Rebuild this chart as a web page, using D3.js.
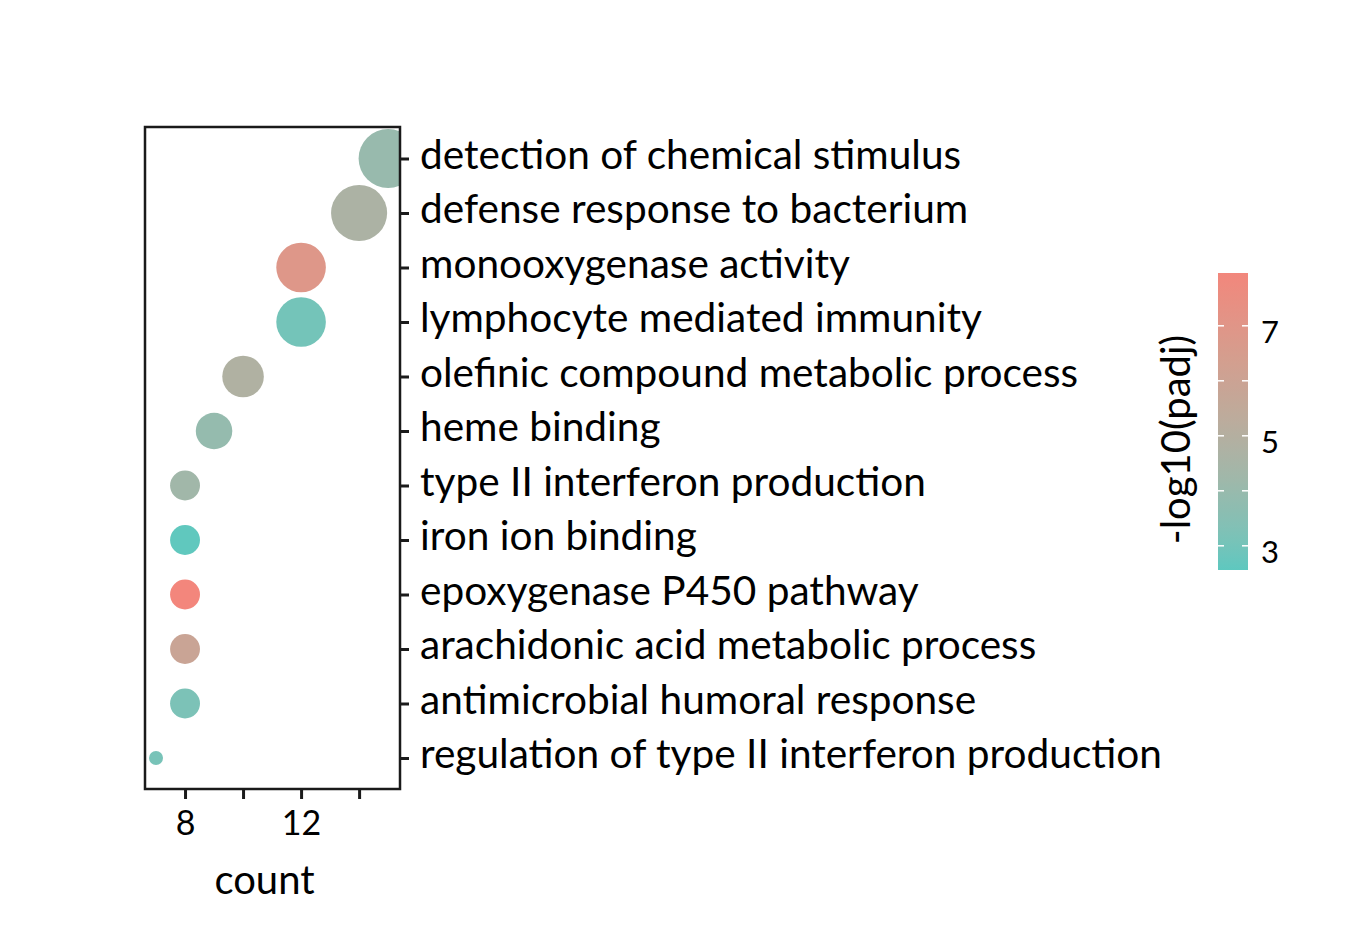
<!DOCTYPE html>
<html>
<head>
<meta charset="utf-8">
<script src="https://cdn.jsdelivr.net/npm/d3@7"></script>
<style>
  html, body { margin: 0; padding: 0; background: #fff; }
  svg { display: block; }
  text { font-family: Lato, "Open Sans", sans-serif; fill: #000; }
</style>
</head>
<body>
<svg id="chart" width="1360" height="944"></svg>
<script>
// GO terms, top to bottom
const terms = [
  'detection of chemical stimulus',
  'defense response to bacterium',
  'monooxygenase activity',
  'lymphocyte mediated immunity',
  'olefinic compound metabolic process',
  'heme binding',
  'type II interferon production',
  'iron ion binding',
  'epoxygenase P450 pathway',
  'arachidonic acid metabolic process',
  'antimicrobial humoral response',
  'regulation of type II interferon production'
];
const counts = [15, 14, 12, 12, 10, 9, 8, 8, 8, 8, 8, 7];
const padj = [4.0, 4.7, 6.9, 3.0, 4.85, 3.9, 4.3, 2.6, 8.0, 5.9, 3.2, 3.1];
const xTicks = [8, 10, 12, 14];
const xTickLabels = ['8', '', '12', ''];
const colorTicks = [3, 4, 5, 6, 7];
const colorTickLabels = ['3', '', '5', '', '7'];

const svg = d3.select('#chart');

// --- panel ---
const panel = { left: 145, top: 127, right: 400, bottom: 789 };

const x = d3.scaleLinear().domain([6.62, 15.41]).range([panel.left, panel.right]);
const y = d3.scalePoint().domain(terms).range([158.5, 758]);

// ggplot-style area scale: radius grows with sqrt of rescaled count
const tScale = d3.scaleLinear().domain(d3.extent(counts)).range([0, 1]);
const rScale = d3.scaleLinear().domain([0, 1]).range([7, 29.5]);

const cScale = d3.scaleLinear().domain([2.56, 7.96]).range(['#5ec8bf', '#f2877c'])
  .interpolate(d3.interpolateLab);

svg.append('defs').append('clipPath').attr('id', 'panel-clip')
  .append('rect')
  .attr('x', panel.left).attr('y', panel.top)
  .attr('width', panel.right - panel.left).attr('height', panel.bottom - panel.top);

const rows = terms.map((t, i) => ({ term: t, count: counts[i], padj: padj[i] }));

svg.append('g').attr('clip-path', 'url(#panel-clip)')
  .selectAll('circle').data(rows).join('circle')
  .attr('cx', d => x(d.count))
  .attr('cy', d => y(d.term))
  .attr('r', d => rScale(Math.sqrt(tScale(d.count))))
  .attr('fill', d => cScale(d.padj));

svg.append('rect')
  .attr('x', panel.left).attr('y', panel.top)
  .attr('width', panel.right - panel.left).attr('height', panel.bottom - panel.top)
  .attr('fill', 'none').attr('stroke', '#1a1a1a').attr('stroke-width', 2.5);

// x axis
const xAxis = svg.append('g').attr('transform', `translate(0,${panel.bottom})`)
  .call(d3.axisBottom(x).tickValues(xTicks).tickSize(10).tickPadding(12)
    .tickFormat((d, i) => xTickLabels[i]));
xAxis.select('.domain').remove();
xAxis.selectAll('.tick line').attr('stroke', '#1a1a1a').attr('stroke-width', 3);
xAxis.selectAll('.tick text').style('font-size', '34px').attr('fill', '#000');

svg.append('text')
  .attr('x', (panel.left + panel.right) / 2 - 8).attr('y', 894)
  .attr('text-anchor', 'middle')
  .style('font-size', '40px')
  .text('count');

// y axis on the right
const yAxis = svg.append('g').attr('transform', `translate(${panel.right},0)`)
  .call(d3.axisRight(y).tickSize(9).tickPadding(11));
yAxis.select('.domain').remove();
yAxis.selectAll('.tick line').attr('stroke', '#1a1a1a').attr('stroke-width', 3);
yAxis.selectAll('.tick text').style('font-size', '40.6px').attr('fill', '#000')
  .attr('dy', '0.24em');

// --- colour bar ---
const bar = { x: 1218, w: 30, top: 273, bottom: 570 };
const cy = d3.scaleLinear().domain(cScale.domain()).range([bar.bottom, bar.top]);

const grad = svg.select('defs').append('linearGradient')
  .attr('id', 'cbar').attr('x1', 0).attr('y1', 1).attr('x2', 0).attr('y2', 0);
d3.range(0, 1.0001, 0.05).forEach(t => {
  const v = cScale.domain()[0] + t * (cScale.domain()[1] - cScale.domain()[0]);
  grad.append('stop').attr('offset', t).attr('stop-color', cScale(v));
});

svg.append('rect')
  .attr('x', bar.x).attr('y', bar.top)
  .attr('width', bar.w).attr('height', bar.bottom - bar.top)
  .attr('fill', 'url(#cbar)');

const cTicks = svg.append('g');
colorTicks.forEach(v => {
  cTicks.append('line')
    .attr('x1', bar.x).attr('x2', bar.x + 6)
    .attr('y1', cy(v)).attr('y2', cy(v))
    .attr('stroke', '#fff').attr('stroke-width', 1.5);
  cTicks.append('line')
    .attr('x1', bar.x + bar.w - 6).attr('x2', bar.x + bar.w)
    .attr('y1', cy(v)).attr('y2', cy(v))
    .attr('stroke', '#fff').attr('stroke-width', 1.5);
});
cTicks.selectAll('text').data(colorTicks).join('text')
  .attr('x', bar.x + bar.w + 13)
  .attr('y', d => cy(d))
  .attr('dy', '0.55em')
  .style('font-size', '31px')
  .text((d, i) => colorTickLabels[i]);

svg.append('text')
  .attr('transform', `translate(1190,${(bar.top + bar.bottom) / 2 + 18}) rotate(-90)`)
  .attr('text-anchor', 'middle')
  .style('font-size', '40px')
  .text('-log10(padj)');
</script>
</body>
</html>
